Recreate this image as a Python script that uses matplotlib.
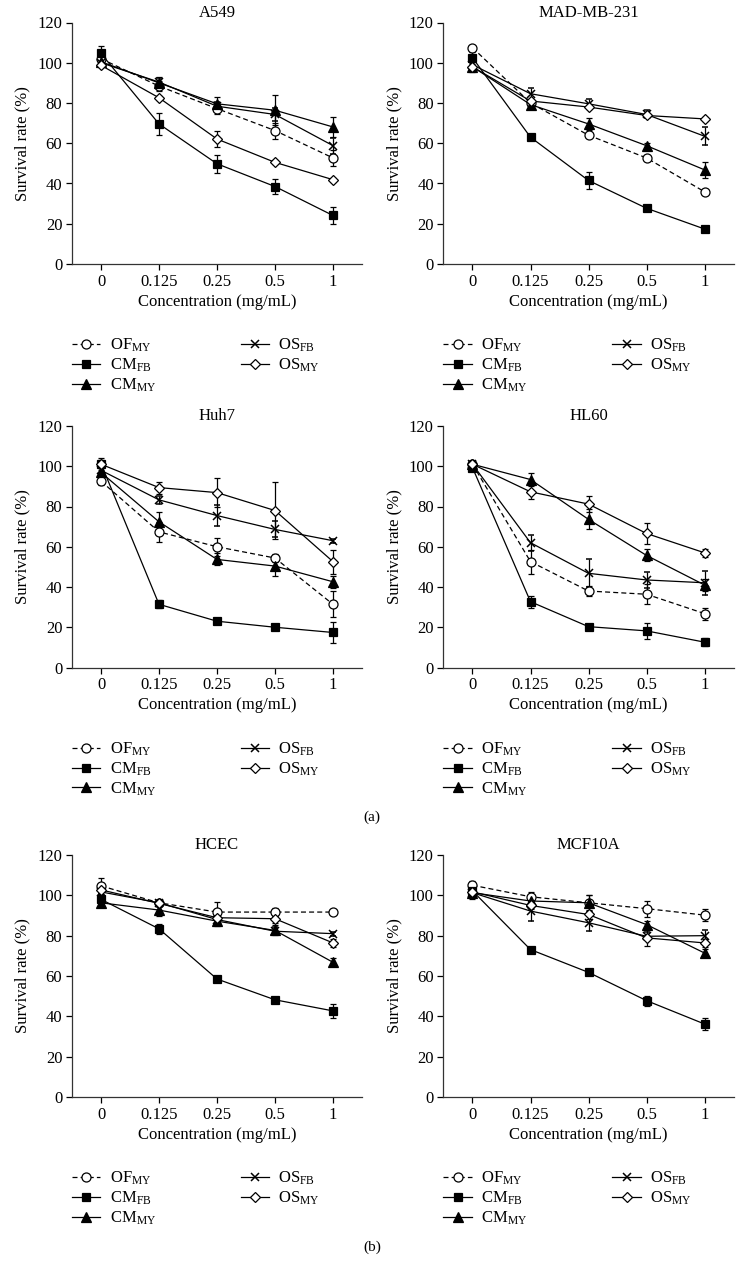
import matplotlib
matplotlib.use("Agg")
import matplotlib.pyplot as plt
from matplotlib.lines import Line2D

plt.rcParams['font.family'] = ['Liberation Serif', 'DejaVu Serif']
plt.rcParams['mathtext.fontset'] = 'custom'
plt.rcParams['mathtext.rm'] = 'Liberation Serif'
plt.rcParams['mathtext.it'] = 'Liberation Serif:italic'

conc_labels = ["0", "0.125", "0.25", "0.5", "1"]
series_labels = [r"OF$_{\mathrm{MY}}$", r"CM$_{\mathrm{FB}}$", r"CM$_{\mathrm{MY}}$",
                 r"OS$_{\mathrm{FB}}$", r"OS$_{\mathrm{MY}}$"]
panel_titles = ["A549", "MAD-MB-231", "Huh7", "HL60", "HCEC", "MCF10A"]

# A549
a549_of_my = [102, 88.4, 77.2, 66.3, 52.7]
a549_of_my_err = [2, 2.5, 2.5, 4, 4]
a549_cm_fb = [104.6, 69.6, 49.8, 38.5, 24.1]
a549_cm_fb_err = [3.5, 5.4, 4.5, 3.7, 4]
a549_cm_my = [100.5, 90, 79.6, 76.4, 68.1]
a549_cm_my_err = [2, 3, 3.5, 7.5, 5]
a549_os_fb = [100, 90.4, 78.4, 74.3, 58.8]
a549_os_fb_err = [1.5, 2, 2, 3, 4]
a549_os_my = [98.7, 82.6, 62.1, 50.5, 41.9]
a549_os_my_err = [1, 1, 4, 1, 1]

# MAD-MB-231
mad_of_my = [107.5, 80, 64, 52.7, 35.9]
mad_of_my_err = [1, 1, 1, 1, 1]
mad_cm_fb = [102.5, 63, 41.5, 27.7, 17.4]
mad_cm_fb_err = [3, 1.5, 4, 1, 1.5]
mad_cm_my = [98, 79.2, 69.6, 58.8, 46.8]
mad_cm_my_err = [2.5, 2, 3, 1.5, 4]
mad_os_fb = [99, 84.6, 79.6, 74.3, 63.5]
mad_os_fb_err = [2, 3, 2.5, 2, 4.5]
mad_os_my = [98, 81, 78, 73.8, 72.1]
mad_os_my_err = [1, 1, 1, 1, 1]

# Huh7
huh7_of_my = [92.6, 67.4, 60, 54.4, 31.4]
huh7_of_my_err = [2, 5, 4.5, 2, 6.5]
huh7_cm_fb = [101.3, 31.4, 23, 20, 17.4]
huh7_cm_fb_err = [3, 2, 1, 1, 5]
huh7_cm_my = [96.9, 72.4, 53.7, 50.4, 42.6]
huh7_cm_my_err = [2, 5, 3, 5, 3]
huh7_os_fb = [98, 83.3, 75.5, 68.6, 63]
huh7_os_fb_err = [2, 2, 5, 4, 1]
huh7_os_my = [101, 89.4, 86.9, 78, 52.6]
huh7_os_my_err = [2, 3, 7.3, 14, 6]

# HL60
hl60_of_my = [101, 52.6, 38, 36.4, 26.8]
hl60_of_my_err = [1, 6, 2.5, 5, 3]
hl60_cm_fb = [99.3, 32.7, 20.3, 18.2, 12.6]
hl60_cm_fb_err = [1.5, 3, 1, 4, 2]
hl60_cm_my = [101, 93.4, 73.6, 55.7, 41]
hl60_cm_my_err = [1, 3, 5, 3, 3]
hl60_os_fb = [101, 62, 46.8, 43.5, 42.1]
hl60_os_fb_err = [1, 4, 7, 4, 6]
hl60_os_my = [101, 87.3, 81.2, 66.6, 57]
hl60_os_my_err = [1, 3.5, 4, 5, 2]

# HCEC
hcec_of_my = [104.7, 96.3, 91.7, 91.7, 91.7]
hcec_of_my_err = [4, 1.5, 5, 2, 1]
hcec_cm_fb = [98, 83.4, 58.5, 48.2, 42.7]
hcec_cm_fb_err = [2, 2.5, 1, 1, 3.5]
hcec_cm_my = [96.3, 92.7, 87.2, 82.6, 66.8]
hcec_cm_my_err = [2, 3, 2.5, 2.5, 2]
hcec_os_fb = [101.7, 96.3, 88, 82.2, 81]
hcec_os_fb_err = [1, 1, 2, 2, 1]
hcec_os_my = [102.7, 96, 88.9, 88.4, 76.4]
hcec_os_my_err = [1, 1, 1, 2, 2]

# MCF10A
mcf_of_my = [105, 99.3, 96.3, 93.4, 90.2]
mcf_of_my_err = [2, 2.5, 4, 4, 3]
mcf_cm_fb = [102.2, 73.1, 61.8, 47.8, 36.2]
mcf_cm_fb_err = [4, 1, 1.5, 2.5, 3]
mcf_cm_my = [101.3, 97.2, 96.3, 85.5, 71.4]
mcf_cm_my_err = [2, 2, 4, 2, 2]
mcf_os_fb = [101.3, 92.2, 86.4, 79.7, 80]
mcf_os_fb_err = [2, 5, 4, 2, 3]
mcf_os_my = [101.7, 95, 90.5, 78.9, 76.4]
mcf_os_my_err = [1, 2, 2, 4, 2]

panels = [
    [(a549_of_my, a549_of_my_err), (a549_cm_fb, a549_cm_fb_err), (a549_cm_my, a549_cm_my_err),
     (a549_os_fb, a549_os_fb_err), (a549_os_my, a549_os_my_err)],
    [(mad_of_my, mad_of_my_err), (mad_cm_fb, mad_cm_fb_err), (mad_cm_my, mad_cm_my_err),
     (mad_os_fb, mad_os_fb_err), (mad_os_my, mad_os_my_err)],
    [(huh7_of_my, huh7_of_my_err), (huh7_cm_fb, huh7_cm_fb_err), (huh7_cm_my, huh7_cm_my_err),
     (huh7_os_fb, huh7_os_fb_err), (huh7_os_my, huh7_os_my_err)],
    [(hl60_of_my, hl60_of_my_err), (hl60_cm_fb, hl60_cm_fb_err), (hl60_cm_my, hl60_cm_my_err),
     (hl60_os_fb, hl60_os_fb_err), (hl60_os_my, hl60_os_my_err)],
    [(hcec_of_my, hcec_of_my_err), (hcec_cm_fb, hcec_cm_fb_err), (hcec_cm_my, hcec_cm_my_err),
     (hcec_os_fb, hcec_os_fb_err), (hcec_os_my, hcec_os_my_err)],
    [(mcf_of_my, mcf_of_my_err), (mcf_cm_fb, mcf_cm_fb_err), (mcf_cm_my, mcf_cm_my_err),
     (mcf_os_fb, mcf_os_fb_err), (mcf_os_my, mcf_os_my_err)],
]

styles = [
    dict(marker='o', mfc='white', ms=6.5, ls=(0, (4, 2.5))),
    dict(marker='s', mfc='black', ms=6, ls='-'),
    dict(marker='^', mfc='black', ms=6.5, ls='-'),
    dict(marker='x', mfc='black', ms=6, ls='-', mew=1.1),
    dict(marker='D', mfc='white', ms=5, ls='-'),
]

W, H = 743, 1266
fig = plt.figure(figsize=(W / 100, H / 100), dpi=100)

col_x = [72, 443.5]
ax_w = 290
rows = [(22.5, 264), (426, 667.5), (855, 1097)]

xpos = list(range(len(conc_labels)))
for i, (title, data) in enumerate(zip(panel_titles, panels)):
    r, c = divmod(i, 2)
    top, bot = rows[r]
    ax = fig.add_axes([col_x[c] / W, 1 - bot / H, ax_w / W, (bot - top) / H])
    handles = []
    for (vals, errs), st in zip(data, styles):
        ax.errorbar(xpos, vals, yerr=errs, color='black', lw=0.9, elinewidth=0.9,
                    capsize=2.5, capthick=0.9, marker=st['marker'], mfc=st['mfc'],
                    mec='black', ms=st['ms'], ls=st['ls'], mew=st.get('mew', 0.9))
        handles.append(Line2D([], [], color='black', lw=0.9, marker=st['marker'],
                              mfc=st['mfc'], mec='black', ms=st['ms'], ls=st['ls'],
                              mew=st.get('mew', 0.9)))
    ax.set_xlim(-0.5, 4.5)
    ax.set_ylim(0, 120)
    ax.set_yticks(range(0, 121, 20))
    ax.set_xticks(xpos)
    ax.set_xticklabels(conc_labels)
    for s in ['top', 'right']:
        ax.spines[s].set_visible(False)
    for s in ['left', 'bottom']:
        ax.spines[s].set_linewidth(0.9)
        ax.spines[s].set_color('#333333')
    ax.tick_params(axis='both', labelsize=12, length=4, width=0.9, direction='out', pad=3)
    ax.set_title(title, fontsize=12, pad=4)
    ax.set_xlabel("Concentration (mg/mL)", fontsize=12, labelpad=3)
    ax.set_ylabel("Survival rate (%)", fontsize=12, labelpad=5)
    ax.legend(handles=handles, labels=series_labels, ncol=2, frameon=False,
              loc='upper left', bbox_to_anchor=(col_x[c] / W, 1 - (bot + 73) / H),
              bbox_transform=fig.transFigure, borderaxespad=0, borderpad=0,
              handlelength=1.7, handletextpad=0.55, columnspacing=5.1,
              labelspacing=0.15, fontsize=12)

fig.text(372 / W, 1 - 817 / H, "(a)", ha='center', va='center', fontsize=11)
fig.text(372 / W, 1 - 1247 / H, "(b)", ha='center', va='center', fontsize=11)

fig.savefig("out.png", dpi=100)
